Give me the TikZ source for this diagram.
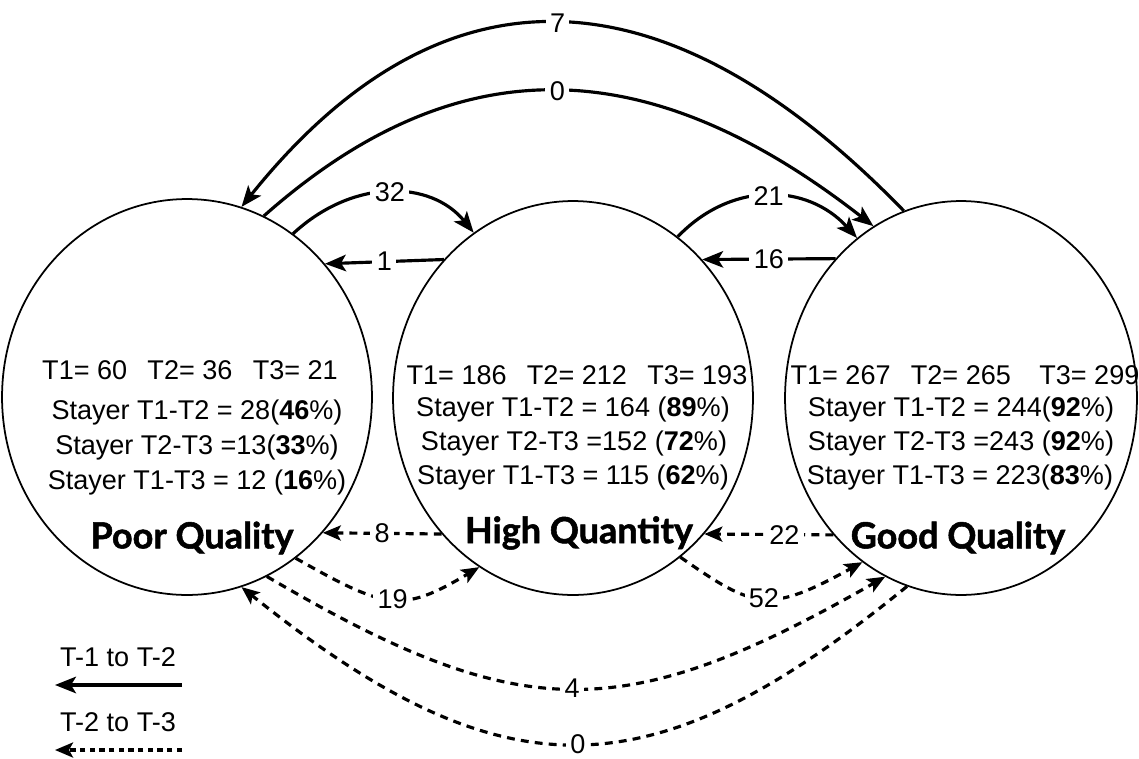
\documentclass[tikz,border=0pt]{standalone}
\usepackage{fontspec}
\setmainfont{Liberation Sans}
\newfontfamily\labfont{Lato}[BoldFeatures={FakeBold=1.5}]
\usetikzlibrary{shapes.geometric,arrows.meta}
\begin{document}
\begin{tikzpicture}[x=0.02cm,y=-0.02cm,
  state/.style={draw, line width=1pt, ellipse, inner sep=0pt},
  info/.style={font=\fontsize{15.4}{19}\selectfont, inner sep=0pt},
  lab/.style={font=\labfont\bfseries\fontsize{20.5}{24}\selectfont, inner sep=0pt},
  num/.style={font=\fontsize{15.4}{18}\selectfont, fill=white, inner sep=2.5pt, midway},
  solidarr/.style={line width=1.8pt, -{Stealth[length=4.2mm,width=3.3mm,inset=1mm]}},
  dasharr/.style={line width=1.8pt, dash pattern=on 4.5pt off 3.5pt, -{Stealth[length=3.6mm,width=3mm,inset=0.8mm]}},
]
\useasboundingbox (0,0) rectangle (1139,758);

% states
\node[state, minimum width=7.4cm, minimum height=7.92cm] (pq) at (187,397) {};
\node[state, minimum width=7.2cm, minimum height=7.88cm] (hq) at (573,398) {};
\node[state, minimum width=7.04cm, minimum height=7.88cm] (gq) at (961,398) {};

% texts inside
\node[info] (pq1) at (190,370) {T1= 60\hspace{0.75em}T2= 36\hspace{0.75em}T3= 21};
\node[info] (pq2) at (197,412) {Stayer T1-T2 = 28(\textbf{46}\%)};
\node[info] (pq3) at (197,447) {Stayer T2-T3 =13(\textbf{33}\%)};
\node[info] (pq4) at (197,482) {Stayer T1-T3 = 12 (\textbf{16}\%)};
\node[lab] (pql) at (192,538) {Poor Quality};

\node[info] (hq1) at (577,375) {T1= 186\hspace{0.75em}T2= 212\hspace{0.75em}T3= 193};
\node[info] (hq2) at (573,409) {Stayer T1-T2 = 164 (\textbf{89}\%)};
\node[info] (hq3) at (574,443) {Stayer T2-T3 =152 (\textbf{72}\%)};
\node[info] (hq4) at (573,477) {Stayer T1-T3 = 115 (\textbf{62}\%)};
\node[lab] (hql) at (579,533) {High Quantity};

\node[info] (gq1) at (965,375) {T1= 267\hspace{0.75em}T2= 265\hspace{1.05em}T3= 299};
\node[info] (gq2) at (961,409) {Stayer T1-T2 = 244(\textbf{92}\%)};
\node[info] (gq3) at (961,443) {Stayer T2-T3 =243 (\textbf{92}\%)};
\node[info] (gq4) at (960,477) {Stayer T1-T3 = 223(\textbf{83}\%)};
\node[lab] (gql) at (958,538) {Good Quality};

% T1 -> T2 (solid)
\draw[solidarr] (gq.107.1) .. controls (664,-36) and (441,-42) .. node[num]{7} (pq.74.7);
\draw[solidarr] (pq.67.6) .. controls (458,44) and (649,51) .. node[num]{0} (gq.117.1);
\draw[solidarr] (pq.57.1) .. controls (353,178) and (431,180) .. node[num]{32} (hq.121.1);
\draw[solidarr] (hq.133.8) -- node[num]{1} (pq.44.9);
\draw[solidarr] (hq.57.8) .. controls (731,181) and (807,183) .. node[num]{21} (gq.123.5);
\draw[solidarr] (gq.132.3) -- node[num]{16} (hq.47.0);

% T2 -> T3 (dashed)
\draw[dasharr] (hq.226.2) -- node[num]{8} (pq.-45);
\draw[dasharr] (gq.227.7) -- node[num,pos=0.38]{22} (hq.-46.8);
\draw[dasharr] (pq.-56.8) .. controls (387,610) and (402,613) .. node[num]{19} (hq.241.8);
\draw[dasharr] (hq.-56.9) .. controls (755,609) and (768,614) .. node[num]{52} (gq.239.9);
\draw[dasharr] (pq.-66.9) .. controls (520,725) and (622,727) .. node[num]{4} (gq.247.6);
\draw[dasharr] (gq.254.4) .. controls (652,794) and (506,799) .. node[num]{0} (pq.-74.9);

% legend
\node[info] (leg1) at (118,657) {T-1 to T-2};
\coordinate (l1a) at (182,685);
\coordinate (l1b) at (55,685);
\draw[solidarr] (l1a) -- (l1b);
\node[info] (leg2) at (118,722) {T-2 to T-3};
\coordinate (l2a) at (182,750);
\coordinate (l2b) at (55,750);
\draw[dasharr, dash pattern=on 3pt off 2.5pt] (l2a) -- (l2b);
\end{tikzpicture}
\end{document}
